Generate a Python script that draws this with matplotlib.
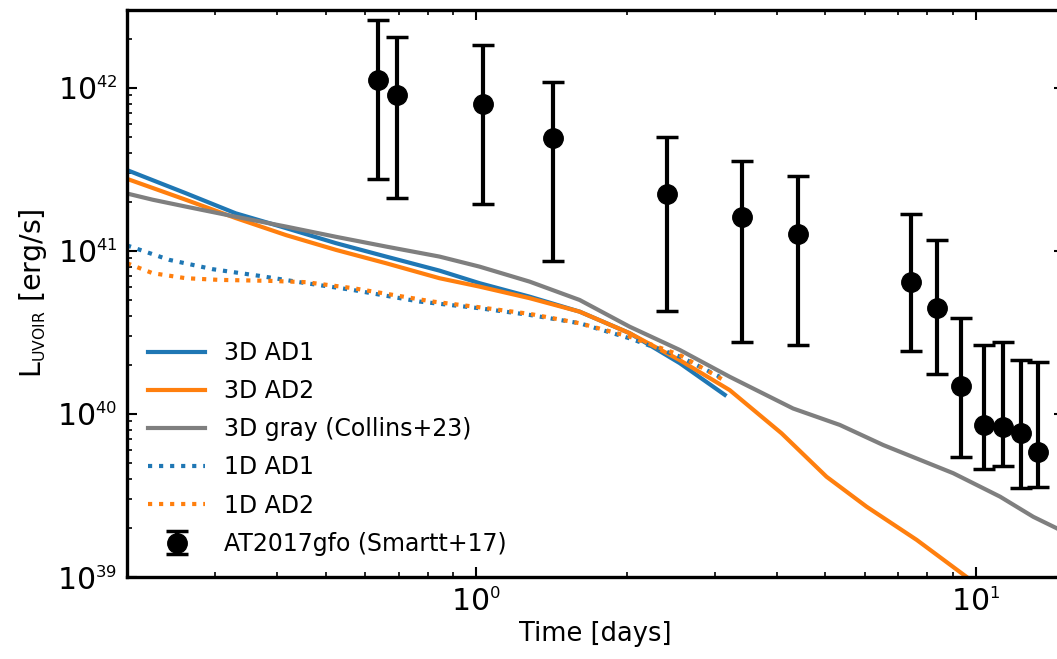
import numpy as np
import matplotlib
matplotlib.use("Agg")
import matplotlib.pyplot as plt
import matplotlib._mathtext as mathtext_internals

# 3D AD1 (solid blue)
t_ad1_3d = [0.201, 0.262, 0.330, 0.416, 0.524, 0.660, 0.844, 1.015, 1.279, 1.611, 2.028, 2.555, 3.145]
L_ad1_3d = [3.11e41, 2.26e41, 1.70e41, 1.38e41, 1.115e41, 9.23e40, 7.57e40, 6.34e40, 5.24e40, 4.24e40,
            3.13e40, 2.05e40, 1.31e40]

# 3D AD2 (solid orange)
t_ad2_3d = [0.201, 0.262, 0.330, 0.416, 0.524, 0.660, 0.844, 1.015, 1.279, 1.611, 2.028, 2.555, 3.218,
            4.086, 5.028, 6.047, 7.617, 9.594, 11.0]
L_ad2_3d = [2.75e41, 2.06e41, 1.59e41, 1.25e41, 1.014e41, 8.40e40, 6.80e40, 6.04e40, 5.13e40, 4.24e40,
            3.13e40, 2.14e40, 1.40e40, 7.61e39, 4.12e39, 2.70e39, 1.69e39, 1.00e39, 7.3e38]

# 3D gray (Collins+23)
t_gray = [0.201, 0.225, 0.262, 0.330, 0.416, 0.524, 0.660, 0.844, 1.015, 1.279, 1.611, 2.028, 2.555,
          3.218, 4.310, 5.347, 6.528, 9.018, 11.19, 13.04, 14.53, 15.2]
L_gray = [2.24e41, 2.06e41, 1.87e41, 1.62e41, 1.41e41, 1.22e41, 1.063e41, 9.23e40, 8.01e40, 6.48e40,
          5.00e40, 3.43e40, 2.47e40, 1.69e40, 1.08e40, 8.56e39, 6.45e39, 4.33e39, 3.11e39, 2.34e39,
          1.99e39, 1.85e39]

# 1D AD1 (dotted blue)
t_ad1_1d = [0.200, 0.243, 0.297, 0.368, 0.456, 0.566, 0.770, 1.015, 1.279, 1.611, 2.028, 2.555, 3.073]
L_ad1_1d = [1.08e41, 8.81e40, 7.72e40, 7.03e40, 6.34e40, 5.76e40, 4.89e40, 4.45e40, 4.05e40, 3.60e40,
            2.91e40, 2.25e40, 1.69e40]

# 1D AD2 (dotted orange)
t_ad2_1d = [0.200, 0.225, 0.262, 0.306, 0.385, 0.456, 0.566, 0.818, 1.015, 1.279, 1.611, 2.028, 2.555, 3.120]
L_ad2_1d = [8.4e40, 7.30e40, 6.80e40, 6.64e40, 6.55e40, 6.43e40, 5.91e40, 4.89e40, 4.51e40, 4.11e40,
            3.60e40, 2.98e40, 2.30e40, 1.62e40]

# AT2017gfo (Smartt+17)
t_obs = [0.637, 0.695, 1.031, 1.424, 2.414, 3.41, 4.405, 7.41, 8.38, 9.36, 10.40, 11.36, 12.34, 13.33]
L_obs = [1.12e42, 9.06e41, 7.94e41, 4.91e41, 2.23e41, 1.62e41, 1.27e41, 6.40e40, 4.45e40, 1.49e40,
         8.53e39, 8.28e39, 7.62e39, 5.82e39]
L_obs_lo = [2.77e41, 2.11e41, 1.94e41, 8.69e40, 4.27e40, 2.75e40, 2.64e40, 2.44e40, 1.76e40, 5.47e39,
            4.58e39, 4.80e39, 3.50e39, 3.58e39]
L_obs_hi = [2.61e42, 2.06e42, 1.84e42, 1.08e42, 4.99e41, 3.56e41, 2.86e41, 1.68e41, 1.17e41, 3.86e40,
            2.65e40, 2.78e40, 2.14e40, 2.07e40]

plt.rcParams["font.family"] = ["DejaVu Sans"]
plt.rcParams["mathtext.fontset"] = "dejavusans"
# smaller super/subscripts, like the original tick labels
mathtext_internals.SHRINK_FACTOR = 0.55

fig = plt.figure(figsize=(10.57, 6.59), dpi=100)
ax = fig.add_axes([0.1202, 0.1244, 0.8861, 0.8604])

ax.plot(t_ad1_3d, L_ad1_3d, color="#1f77b4", lw=3, label="3D AD1")
ax.plot(t_ad2_3d, L_ad2_3d, color="#ff7f0e", lw=3, label="3D AD2")
ax.plot(t_gray, L_gray, color="#7f7f7f", lw=3, label="3D gray (Collins+23)")
ax.plot(t_ad1_1d, L_ad1_1d, color="#1f77b4", lw=3, ls=":", label="1D AD1")
ax.plot(t_ad2_1d, L_ad2_1d, color="#ff7f0e", lw=3, ls=":", label="1D AD2")

L_obs = np.array(L_obs)
yerr = [L_obs - np.array(L_obs_lo), np.array(L_obs_hi) - L_obs]
ax.errorbar(t_obs, L_obs, yerr=yerr, fmt="o", color="k", ms=14, elinewidth=3,
            capsize=8, capthick=2.5, label="AT2017gfo (Smartt+17)", zorder=5)

ax.set_xscale("log")
ax.set_yscale("log")
ax.set_xlim(0.2, 15)
ax.set_ylim(1e39, 3e42)

ax.set_xlabel("Time [days]", fontsize=18.5)
ax.set_ylabel(r"L$_{\rm UVOIR}$ [erg/s]", fontsize=20.5, labelpad=6)

for s in ax.spines.values():
    s.set_linewidth(2.4)
ax.tick_params(which="both", direction="in", top=True, right=True, labelsize=21.5)
ax.tick_params(which="major", length=7, width=1.5, pad=7)
ax.tick_params(which="minor", length=3.5, width=1.2)

ax.legend(loc="lower left", frameon=False, fontsize=17, handlelength=2.4, labelspacing=0.6)

fig.savefig("out.png", dpi=100)
